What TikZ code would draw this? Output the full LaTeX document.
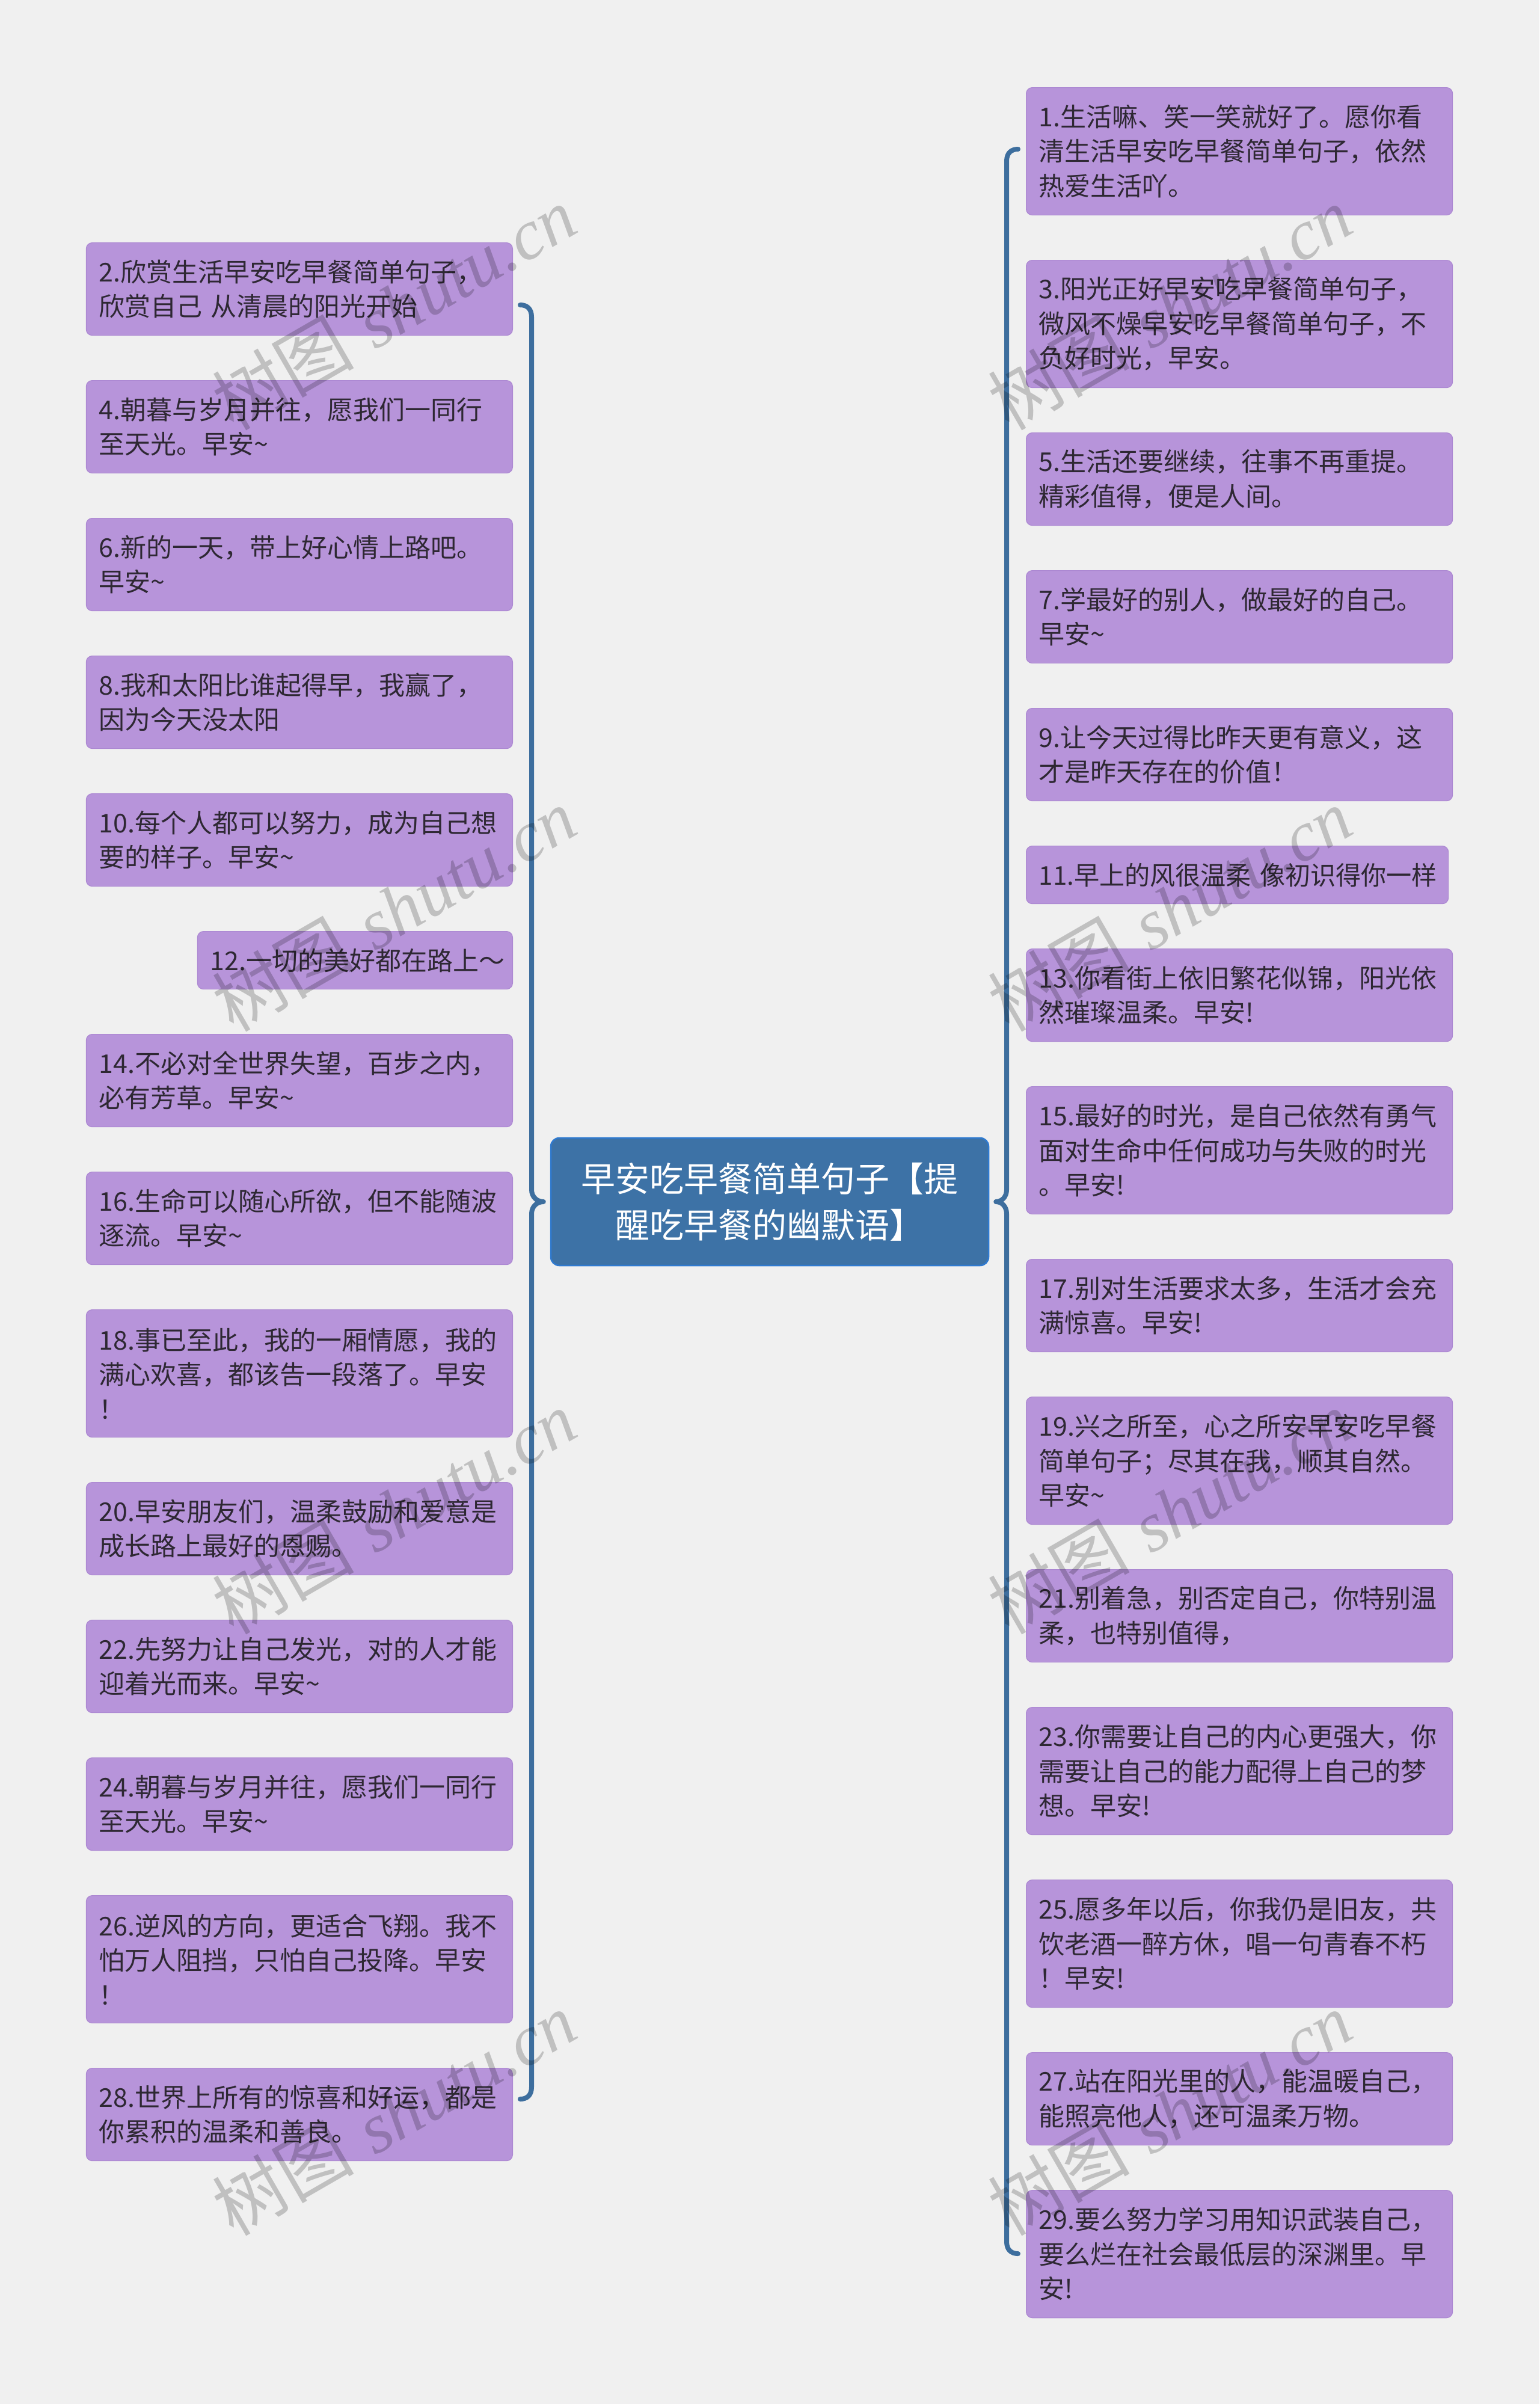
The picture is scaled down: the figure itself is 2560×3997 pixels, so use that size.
\documentclass[tikz,border=0pt]{standalone}
\usepackage{fontspec}
\setmainfont{Noto Sans CJK SC}
\newfontfamily\cjk{Noto Sans CJK SC}
\newfontfamily\wmlatin{Liberation Serif}
\usetikzlibrary{calc}
\definecolor{bgc}{HTML}{F0F0F0}
\definecolor{leaffill}{HTML}{B794DA}
\definecolor{leafline}{HTML}{AC88D2}
\definecolor{leaftext}{HTML}{2E2833}
\definecolor{rootfill}{HTML}{3D72A6}
\definecolor{rootline}{HTML}{2F7AD0}
\definecolor{bracecol}{HTML}{3D6E9E}
\begin{document}
\begin{tikzpicture}[x=1pt,y=-1pt,
  leaf/.style={rectangle, rounded corners=10pt, fill=leaffill, draw=leafline, line width=1.2pt,
    text=leaftext, font=\cjk\fontsize{43}{57.5}\selectfont, align=left, text width=667pt,
    inner xsep=21pt, inner ysep=0pt},
  lines1/.style={minimum height=96pt},
  lines2/.style={minimum height=154pt},
  lines3/.style={minimum height=212pt},
  lcol/.style={leaf, anchor=north east},
  rcol/.style={leaf, anchor=north west},
  rootbox/.style={rectangle, rounded corners=14pt, fill=rootfill, draw=rootline, line width=2.5pt,
    text=white, font=\cjk\fontsize{57}{77}\selectfont, align=center,
    minimum width=728pt, minimum height=212pt, inner sep=0pt},
  brace/.style={draw=bracecol, line width=8pt, line cap=round, line join=round},
  wm/.style={font=\cjk\fontsize{118}{118}\selectfont, text=black, text opacity=0.2, rotate=30, inner sep=0pt}
]
\useasboundingbox (0,0) rectangle (2560,3997);
\fill[bgc] (0,0) rectangle (2560,3997);

% root
\node[rootbox] (root) at (1280,1998) {早安吃早餐简单句子【提\\醒吃早餐的幽默语】};

% right column
\node[rcol, lines3] (n1)  at (1706,145)  {1.生活嘛、笑一笑就好了。愿你看\\清生活早安吃早餐简单句子，依然\\热爱生活吖。};
\node[rcol, lines3] (n3)  at (1706,432)  {3.阳光正好早安吃早餐简单句子，\\微风不燥早安吃早餐简单句子，不\\负好时光，早安。};
\node[rcol, lines2] (n5)  at (1706,719)  {5.生活还要继续，往事不再重提。\\精彩值得，便是人间。};
\node[rcol, lines2] (n7)  at (1706,948)  {7.学最好的别人，做最好的自己。\\早安\textasciitilde};
\node[rcol, lines2] (n9)  at (1706,1177) {9.让今天过得比昨天更有意义，这\\才是昨天存在的价值！};
\node[rcol, lines1, text width=660pt] (n11) at (1706,1406) {\scalebox{0.98}[1]{11.早上的风很温柔 像初识得你一样}};
\node[rcol, lines2] (n13) at (1706,1577) {13.你看街上依旧繁花似锦，阳光依\\然璀璨温柔。早安!};
\node[rcol, lines3] (n15) at (1706,1806) {15.最好的时光，是自己依然有勇气\\面对生命中任何成功与失败的时光\\。早安!};
\node[rcol, lines2] (n17) at (1706,2093) {17.别对生活要求太多，生活才会充\\满惊喜。早安!};
\node[rcol, lines3] (n19) at (1706,2322) {19.兴之所至，心之所安早安吃早餐\\简单句子；尽其在我，顺其自然。\\早安\textasciitilde};
\node[rcol, lines2] (n21) at (1706,2609) {21.别着急，别否定自己，你特别温\\柔，也特别值得，};
\node[rcol, lines3] (n23) at (1706,2838) {23.你需要让自己的内心更强大，你\\需要让自己的能力配得上自己的梦\\想。早安!};
\node[rcol, lines3] (n25) at (1706,3125) {25.愿多年以后，你我仍是旧友，共\\饮老酒一醉方休，唱一句青春不朽\\！早安!};
\node[rcol, lines2] (n27) at (1706,3412) {27.站在阳光里的人，能温暖自己，\\能照亮他人，还可温柔万物。};
\node[rcol, lines3] (n29) at (1706,3641) {29.要么努力学习用知识武装自己，\\要么烂在社会最低层的深渊里。早\\安!};

% left column
\node[lcol, lines2] (n2)  at (853,403)  {2.欣赏生活早安吃早餐简单句子，\\欣赏自己 从清晨的阳光开始};
\node[lcol, lines2] (n4)  at (853,632)  {4.朝暮与岁月并往，愿我们一同行\\至天光。早安\textasciitilde};
\node[lcol, lines2] (n6)  at (853,861)  {6.新的一天，带上好心情上路吧。\\早安\textasciitilde};
\node[lcol, lines2] (n8)  at (853,1090) {8.我和太阳比谁起得早，我赢了，\\因为今天没太阳};
\node[lcol, lines2] (n10) at (853,1319) {10.每个人都可以努力，成为自己想\\要的样子。早安\textasciitilde};
\node[lcol, lines1, text width=482pt] (n12) at (853,1548) {12.一切的美好都在路上～};
\node[lcol, lines2] (n14) at (853,1719) {14.不必对全世界失望，百步之内，\\必有芳草。早安\textasciitilde};
\node[lcol, lines2] (n16) at (853,1948) {16.生命可以随心所欲，但不能随波\\逐流。早安\textasciitilde};
\node[lcol, lines3] (n18) at (853,2177) {18.事已至此，我的一厢情愿，我的\\满心欢喜，都该告一段落了。早安\\！};
\node[lcol, lines2] (n20) at (853,2464) {20.早安朋友们，温柔鼓励和爱意是\\成长路上最好的恩赐。};
\node[lcol, lines2] (n22) at (853,2693) {22.先努力让自己发光，对的人才能\\迎着光而来。早安\textasciitilde};
\node[lcol, lines2] (n24) at (853,2922) {24.朝暮与岁月并往，愿我们一同行\\至天光。早安\textasciitilde};
\node[lcol, lines3] (n26) at (853,3151) {26.逆风的方向，更适合飞翔。我不\\怕万人阻挡，只怕自己投降。早安\\！};
\node[lcol, lines2] (n28) at (853,3438) {28.世界上所有的惊喜和好运，都是\\你累积的温柔和善良。};

% braces
\coordinate (ltip) at ($(root.west)+(-11,0)$);
\coordinate (rtip) at ($(root.east)+(11,0)$);
\coordinate (ltop) at (865,507);
\coordinate (lbot) at (865,3490);
\coordinate (rtop) at (1693,248);
\coordinate (rbot) at (1693,3747);

\draw[brace] (ltop) .. controls (877,507) and (884,514) .. (884,527)
  -- (884,1978) .. controls (884,1990) and (893,1998) .. (ltip)
  .. controls (893,1998) and (884,2006) .. (884,2018)
  -- (884,3470) .. controls (884,3483) and (877,3490) .. (lbot);
\draw[brace] (rtop) .. controls (1681,248) and (1674,255) .. (1674,268)
  -- (1674,1978) .. controls (1674,1990) and (1666,1998) .. (rtip)
  .. controls (1666,1998) and (1674,2006) .. (1674,2018)
  -- (1674,3727) .. controls (1674,3740) and (1681,3747) .. (rbot);

% watermarks
\foreach \i/\yy in {1/512,2/1512,3/2514,4/3514}{
  \node[wm] (wmL\i) at (655,\yy) {树图\hspace{0.3em}{\wmlatin\itshape shutu.cn}};
  \node[wm] (wmR\i) at (1945,\yy) {树图\hspace{0.3em}{\wmlatin\itshape shutu.cn}};
}
\end{tikzpicture}
\end{document}
